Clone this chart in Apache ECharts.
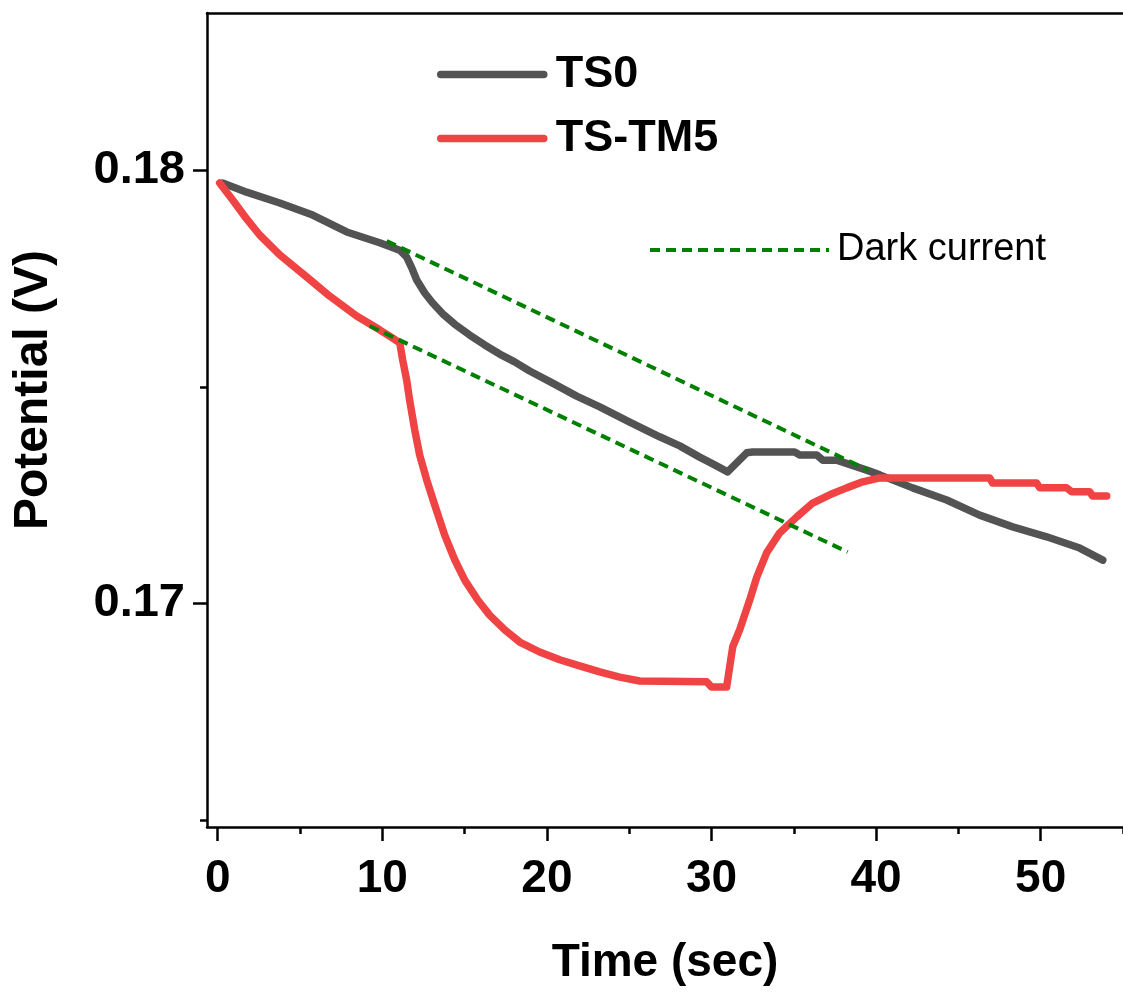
<!DOCTYPE html>
<html>
<head>
<meta charset="utf-8">
<script src="https://cdn.jsdelivr.net/npm/echarts@6/dist/echarts.min.js"></script>
<style>
html,body{margin:0;padding:0;background:#fff;}
#chart{width:1123px;height:992px;}
</style>
</head>
<body>
<div id="chart"></div>
<script>
// ---- Data ----
const ts0Time = [0.30, 1.76, 3.77, 5.77, 7.84, 9.84, 11.06, 11.48, 11.79, 12.09, 12.58, 13.06, 13.67, 14.40, 15.31, 16.22, 17.13, 18.04, 18.95, 20.35, 21.81, 23.21, 25.03, 26.85, 28.07, 29.28, 30.19, 30.98, 32.14, 32.50, 35.05, 35.36, 36.39, 36.76, 37.60, 39.43, 40.22, 42.22, 44.29, 46.29, 48.30, 50.36, 52.37, 53.77];
const ts0Values = [0.17971, 0.17950, 0.17925, 0.17897, 0.17858, 0.17833, 0.17816, 0.17800, 0.17775, 0.17747, 0.17717, 0.17694, 0.17669, 0.17645, 0.17620, 0.17597, 0.17576, 0.17558, 0.17537, 0.17509, 0.17479, 0.17454, 0.17419, 0.17385, 0.17364, 0.17338, 0.17320, 0.17304, 0.17348, 0.17350, 0.17350, 0.17343, 0.17343, 0.17331, 0.17331, 0.17308, 0.17297, 0.17267, 0.17239, 0.17204, 0.17177, 0.17154, 0.17128, 0.17100];

const tm5Time = [0.12, 0.91, 1.76, 2.55, 3.77, 5.41, 6.80, 8.44, 9.84, 10.63, 11.06, 11.24, 11.48, 11.66, 11.97, 12.27, 12.70, 13.18, 13.79, 14.40, 15.01, 15.80, 16.52, 17.44, 18.35, 19.56, 20.78, 21.99, 23.21, 24.42, 25.64, 29.71, 30.01, 30.92, 31.29, 31.71, 32.32, 32.75, 33.35, 34.14, 35.18, 36.15, 37.18, 38.21, 39.19, 40.22, 46.90, 47.08, 49.76, 49.94, 51.58, 51.88, 52.98, 53.16, 54.01];
const tm5Values = [0.17971, 0.17932, 0.17888, 0.17851, 0.17805, 0.17754, 0.17710, 0.17664, 0.17632, 0.17613, 0.17602, 0.17562, 0.17516, 0.17470, 0.17401, 0.17343, 0.17285, 0.17228, 0.17158, 0.17101, 0.17054, 0.17008, 0.16973, 0.16939, 0.16911, 0.16888, 0.16870, 0.16856, 0.16842, 0.16830, 0.16821, 0.16819, 0.16807, 0.16807, 0.16900, 0.16939, 0.17008, 0.17061, 0.17117, 0.17163, 0.17200, 0.17232, 0.17251, 0.17267, 0.17281, 0.17290, 0.17290, 0.17278, 0.17278, 0.17267, 0.17267, 0.17258, 0.17258, 0.17248, 0.17248];

const darkUpperTime = [10.27, 39.5];
const darkUpperValues = [0.178372, 0.173083];
const darkLowerTime = [9.23, 38.27];
const darkLowerValues = [0.176409, 0.171189];

const xMajorTicks = [0, 10, 20, 30, 40, 50];
const xMinorTicks = [5, 15, 25, 35, 45, 55];
const yMajorTicks = [0.17, 0.18];
const yMinorTicks = [0.165, 0.175];

const X_MIN = -0.65, X_MAX = 55;
const Y_MIN = 0.164838, Y_MAX = 0.183637;

function pairs(xs, ys) { return xs.map((x, i) => [x, ys[i]]); }

const FONT = "'Liberation Sans', Arial, Helvetica, sans-serif";
const AXIS_W = 2.5;

const chart = echarts.init(document.getElementById('chart'), null, {renderer: 'canvas'});
chart.setOption({
  animation: false,
  backgroundColor: '#ffffff',
  grid: {left: 207, right: 0, top: 13, bottom: 165, containLabel: false},
  legend: [
    {
      data: ['TS0', 'TS-TM5'],
      orient: 'vertical',
      left: 432, top: 47,
      itemWidth: 103, itemHeight: 14, itemGap: 19,
      lineStyle: {width: 7.5, cap: 'round'},
      itemStyle: {opacity: 0},
      textStyle: {fontFamily: FONT, fontWeight: 'bold', fontSize: 45, color: '#000', padding: [0, 0, 0, 7]}
    },
    {
      data: ['Dark current'],
      orient: 'vertical',
      left: 643, top: 226,
      itemWidth: 179, itemHeight: 14,
      lineStyle: {width: 4},
      itemStyle: {opacity: 0},
      textStyle: {fontFamily: FONT, fontSize: 38, color: '#000', padding: [0, 0, 0, 3]}
    }
  ],
  xAxis: [
    {
      type: 'value', min: X_MIN, max: X_MAX, position: 'bottom',
      name: 'Time (sec)', nameLocation: 'middle', nameGap: 113,
      nameTextStyle: {fontFamily: FONT, fontWeight: 'bold', fontSize: 46, color: '#000'},
      axisLine: {show: true, onZero: false, lineStyle: {color: '#000', width: AXIS_W}},
      axisTick: {show: true, inside: false, length: 14, customValues: xMajorTicks, lineStyle: {color: '#000', width: AXIS_W}},
      axisLabel: {show: true, customValues: xMajorTicks, margin: 29, fontFamily: FONT, fontWeight: 'bold', fontSize: 46, color: '#000'},
      splitLine: {show: false}
    },
    {
      type: 'value', min: X_MIN, max: X_MAX, position: 'bottom', gridIndex: 0,
      axisLine: {show: false, onZero: false},
      axisTick: {show: true, inside: false, length: 7, customValues: xMinorTicks, lineStyle: {color: '#000', width: AXIS_W}},
      axisLabel: {show: false},
      splitLine: {show: false}
    },
    {
      type: 'value', min: X_MIN, max: X_MAX, position: 'top', gridIndex: 0,
      axisLine: {show: true, onZero: false, lineStyle: {color: '#000', width: AXIS_W}},
      axisTick: {show: false},
      axisLabel: {show: false},
      splitLine: {show: false}
    }
  ],
  yAxis: [
    {
      type: 'value', min: Y_MIN, max: Y_MAX, position: 'left',
      name: 'Potential (V)', nameLocation: 'middle', nameGap: 149, nameRotate: 90,
      nameTextStyle: {fontFamily: FONT, fontWeight: 'bold', fontSize: 48, color: '#000', padding: [0, 0, 0, 60]},
      axisLine: {show: true, onZero: false, lineStyle: {color: '#000', width: AXIS_W}},
      axisTick: {show: true, inside: false, length: 14, customValues: yMajorTicks, lineStyle: {color: '#000', width: AXIS_W}},
      axisLabel: {show: true, customValues: yMajorTicks, margin: 22, fontFamily: FONT, fontWeight: 'bold', fontSize: 47, color: '#000',
        formatter: v => v.toFixed(2)},
      splitLine: {show: false}
    },
    {
      type: 'value', min: Y_MIN, max: Y_MAX, position: 'left', gridIndex: 0,
      axisLine: {show: false, onZero: false},
      axisTick: {show: true, inside: false, length: 7, customValues: yMinorTicks, lineStyle: {color: '#000', width: AXIS_W}},
      axisLabel: {show: false},
      splitLine: {show: false}
    }
  ],
  series: [
    {
      name: 'TS0', type: 'line', xAxisIndex: 0, yAxisIndex: 0,
      data: pairs(ts0Time, ts0Values), symbol: 'none', smooth: false,
      color: '#535353',
      lineStyle: {color: '#535353', width: 7.5, cap: 'round', join: 'round'}
    },
    {
      name: 'TS-TM5', type: 'line', xAxisIndex: 0, yAxisIndex: 0,
      data: pairs(tm5Time, tm5Values), symbol: 'none', smooth: false,
      color: '#f04343',
      lineStyle: {color: '#f04343', width: 7.5, cap: 'round', join: 'round'}
    },
    {
      name: 'Dark current', type: 'line', xAxisIndex: 0, yAxisIndex: 0,
      data: pairs(darkUpperTime, darkUpperValues), symbol: 'none',
      color: '#008000',
      lineStyle: {color: '#008000', width: 4, type: [10, 6]}
    },
    {
      name: 'Dark current', type: 'line', xAxisIndex: 0, yAxisIndex: 0,
      data: pairs(darkLowerTime, darkLowerValues), symbol: 'none',
      color: '#008000',
      lineStyle: {color: '#008000', width: 4, type: [10, 6]}
    }
  ]
});
</script>
</body>
</html>
